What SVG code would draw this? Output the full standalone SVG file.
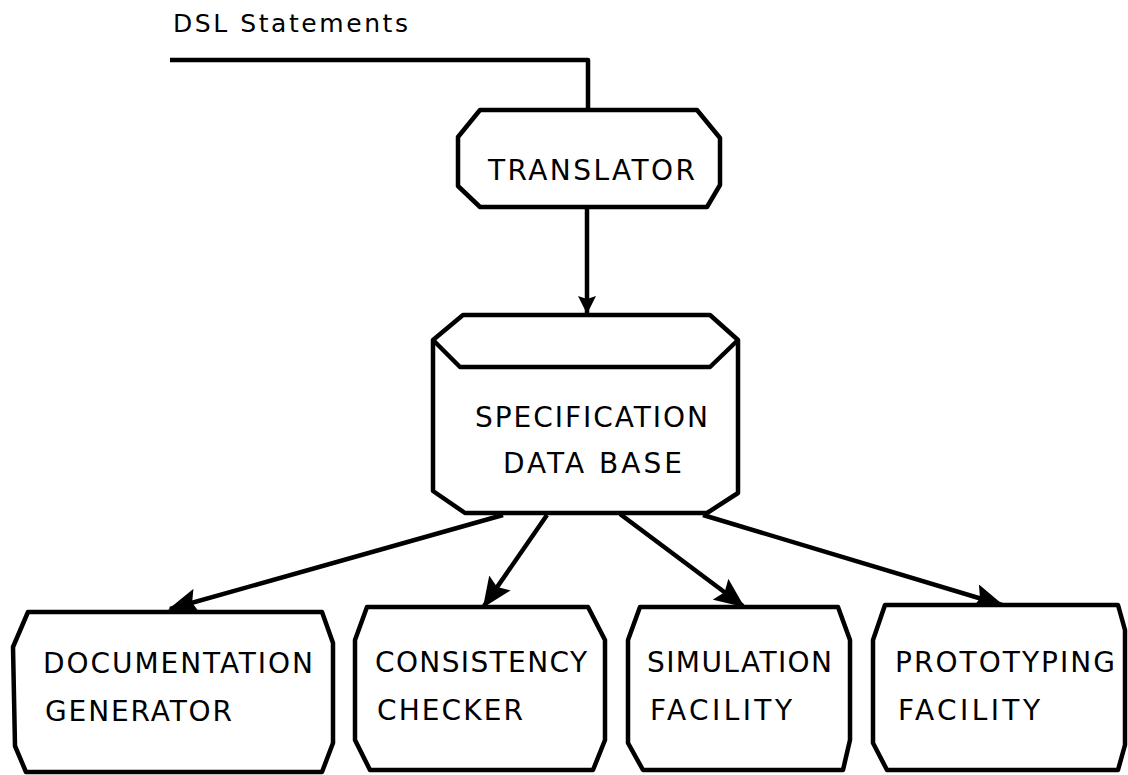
<svg xmlns="http://www.w3.org/2000/svg" width="1128" height="775" viewBox="0 0 1128 775">
<style>
.box{fill:#fff;stroke:#000;stroke-width:4.5;stroke-linejoin:round}
.lbl{font-family:"DejaVu Sans","Liberation Sans",Arial,sans-serif;font-size:28px;fill:#000}
.cap{font-family:"DejaVu Sans","Liberation Sans",Arial,sans-serif;font-size:25px;fill:#000}
.edge{fill:none;stroke:#000;stroke-width:4.5;stroke-linejoin:round}
</style>
<defs>
<marker id="ah" viewBox="0 0 30 26" refX="28" refY="13" markerWidth="30" markerHeight="26" markerUnits="userSpaceOnUse" orient="auto">
<path d="M0,0 L30,13 L0,26 L5,13 Z" fill="#000"/>
</marker>
<marker id="ahs" viewBox="0 0 18 18" refX="17" refY="9" markerWidth="18" markerHeight="18" markerUnits="userSpaceOnUse" orient="auto">
<path d="M0,0 L18,9 L0,18 L3,9 Z" fill="#000"/>
</marker>
</defs>
<rect width="1128" height="775" fill="#fff"/>

<text class="cap" x="173" y="32" textLength="235" lengthAdjust="spacing">DSL Statements</text>

<g id="connectors">
<path class="edge" d="M170,60 L588,60 L588,110"/>
<path class="edge" d="M587,207 L587,313" marker-end="url(#ahs)"/>
<path class="edge" d="M503,515 L170,609" marker-end="url(#ah)"/>
<path class="edge" d="M547,515 L484,606" marker-end="url(#ah)"/>
<path class="edge" d="M620,514 L743,606" marker-end="url(#ah)"/>
<path class="edge" d="M703,515 L1002,605" marker-end="url(#ah)"/>
</g>

<g id="translator">
<polygon class="box" points="480,110 697,110 720,138 720,185 707,207 480,207 458,186 458,137"/>
<text class="lbl" x="488" y="180" textLength="207" lengthAdjust="spacing">TRANSLATOR</text>
</g>

<g id="spec-db">
<path class="box" d="M463,315 L710,315 L738,340 L738,493 L707,513 L465,513 L433,491 L433,340 Z"/>
<path class="edge" d="M433,340 L460,367 L710,367 L738,340"/>
<text class="lbl" x="475" y="427" textLength="233" lengthAdjust="spacing">SPECIFICATION</text>
<text class="lbl" x="503" y="473" textLength="179" lengthAdjust="spacing">DATA BASE</text>
</g>

<g id="doc-gen">
<polygon class="box" points="28,612 322,612 333,643 333,743 322,772 26,772 15,746 13,647"/>
<text class="lbl" x="43" y="673" textLength="270" lengthAdjust="spacing">DOCUMENTATION</text>
<text class="lbl" x="45" y="721" textLength="187" lengthAdjust="spacing">GENERATOR</text>
</g>

<g id="consistency">
<polygon class="box" points="367,607 588,607 605,640 605,740 593,770 370,770 355,740 355,640"/>
<text class="lbl" x="375" y="672" textLength="212" lengthAdjust="spacing">CONSISTENCY</text>
<text class="lbl" x="377" y="720" textLength="146" lengthAdjust="spacing">CHECKER</text>
</g>

<g id="simulation">
<polygon class="box" points="640,607 838,607 850,640 850,740 843,770 643,770 628,743 628,640"/>
<text class="lbl" x="647" y="672" textLength="185" lengthAdjust="spacing">SIMULATION</text>
<text class="lbl" x="650" y="720" textLength="142" lengthAdjust="spacing">FACILITY</text>
</g>

<g id="prototyping">
<polygon class="box" points="885,605 1118,605 1125,630 1125,745 1118,770 887,770 873,743 873,640"/>
<text class="lbl" x="895" y="672" textLength="220" lengthAdjust="spacing">PROTOTYPING</text>
<text class="lbl" x="898" y="720" textLength="142" lengthAdjust="spacing">FACILITY</text>
</g>
</svg>
